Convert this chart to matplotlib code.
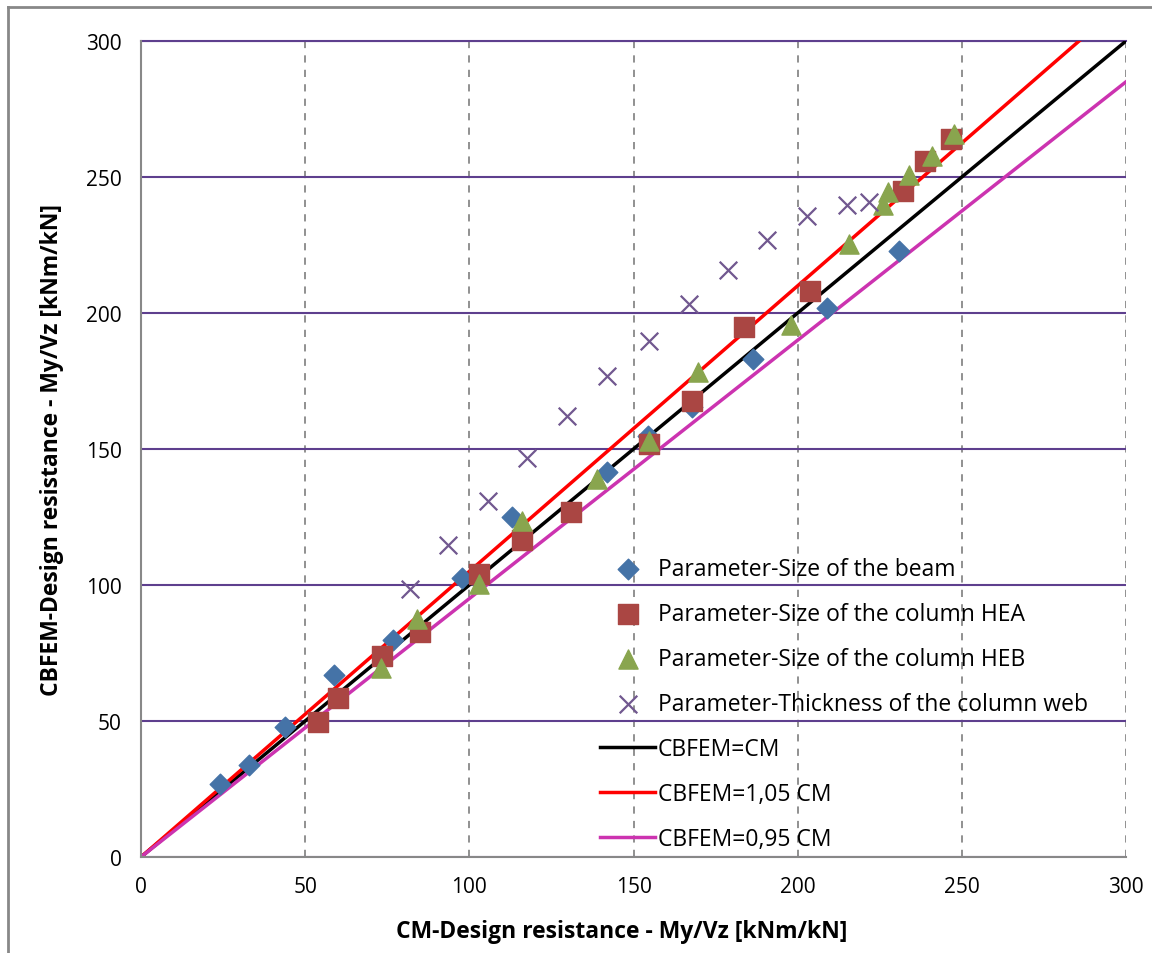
import numpy as np
import matplotlib
matplotlib.use("Agg")
import matplotlib.pyplot as plt
from matplotlib.lines import Line2D

plt.rcParams['font.family'] = ['Open Sans', 'DejaVu Sans']

# Daten
beam_x = [24.1, 32.9, 43.9, 58.8, 76.8, 97.8, 113.0, 141.9, 154.4, 167.8, 186.4, 209.0, 230.9]
beam_y = [26.8, 33.8, 47.8, 66.9, 79.8, 102.6, 125.0, 141.5, 154.8, 165.4, 183.1, 201.8, 222.8]

hea_x = [54.0, 60.0, 73.4, 85.0, 103.0, 116.0, 131.0, 154.7, 167.8, 183.7, 203.8, 232.1, 238.8, 246.7]
hea_y = [49.6, 58.5, 73.9, 82.7, 104.0, 116.5, 126.8, 151.8, 167.6, 194.8, 208.1, 244.9, 255.9, 264.0]

heb_x = [73.1, 84.1, 103.0, 116.0, 139.0, 154.7, 169.7, 198.0, 215.7, 226.0, 227.5, 234.0, 241.0, 247.6]
heb_y = [69.5, 87.5, 100.4, 123.5, 139.0, 153.0, 178.3, 195.5, 225.4, 239.7, 244.5, 250.7, 257.7, 265.8]

web_x = [82.0, 93.5, 105.7, 117.6, 129.8, 141.9, 154.7, 166.9, 178.8, 190.7, 202.9, 215.0, 221.7]
web_y = [98.5, 114.7, 130.9, 146.7, 162.1, 176.8, 189.7, 203.3, 215.8, 226.8, 235.7, 239.7, 240.8]

ref_x = [0, 300]
factors = [1.0, 1.05, 0.95]
ref_labels = ['CBFEM=CM', 'CBFEM=1,05 CM', 'CBFEM=0,95 CM']
ref_colors = ['#000000', '#FF0000', '#CC33B0']

fig = plt.figure(figsize=(11.52, 9.54), dpi=100)
ax = fig.add_axes([141/1152, 1-858/954, (1126-141)/1152, (858-42)/954])

# Rahmen des Diagrammbereichs
fig.add_artist(Line2D([8/1152, 8/1152], [0, 1-8/954], color='#888888', lw=2, transform=fig.transFigure))
fig.add_artist(Line2D([8/1152, 1], [1-8/954, 1-8/954], color='#888888', lw=2, transform=fig.transFigure))

ax.scatter(beam_x, beam_y, marker='D', s=110, color='#4573A7', zorder=3,
           label='Parameter-Size of the beam')
ax.scatter(hea_x, hea_y, marker='s', s=190, color='#AA4643', zorder=3,
           label='Parameter-Size of the column HEA')
ax.scatter(heb_x, heb_y, marker='^', s=190, color='#89A54E', zorder=3,
           label='Parameter-Size of the column HEB')
ax.scatter(web_x, web_y, marker='x', s=160, color='#71588F', linewidths=1.6, zorder=3,
           label='Parameter-Thickness of the column web')

for f, lab, c in zip(factors, ref_labels, ref_colors):
    ax.plot(ref_x, [v * f for v in ref_x], color=c, lw=2.5, label=lab, zorder=2)

ax.set_xlim(0, 300)
ax.set_ylim(0, 300)
ax.set_xticks(range(0, 301, 50))
ax.set_yticks(range(0, 301, 50))
ax.yaxis.grid(True, color='#5E3F8E', lw=1.5, zorder=0)
ax.xaxis.grid(True, color='#888888', lw=1.3, ls=(0, (4, 4)), zorder=0)
ax.axhline(300, color='#5E3F8E', lw=1.5, clip_on=False, zorder=0)
ax.set_axisbelow(True)
for s in ['top', 'right']:
    ax.spines[s].set_visible(False)
for s in ['left', 'bottom']:
    ax.spines[s].set_color('#888888')
    ax.spines[s].set_linewidth(1.5)
ax.tick_params(length=0, labelsize=15, pad=14)

ax.set_xlabel('CM-Design resistance - My/Vz [kNm/kN]', fontsize=16.5, fontweight='bold')
ax.set_ylabel('CBFEM-Design resistance - My/Vz [kNm/kN]', fontsize=16.5, fontweight='bold')
ax.xaxis.set_label_coords(0.488, -0.0907)
ax.yaxis.set_label_coords(-0.0904, 0.5)
ax.xaxis.label.set_va('center')
ax.yaxis.label.set_va('center')

ax.legend(loc='upper left', bbox_to_anchor=((600-141)/985, (858-558)/816),
          frameon=False, fontsize=16.5, handlelength=2.4, handletextpad=0.13,
          labelspacing=0.92, borderaxespad=0, borderpad=0, scatterpoints=1)

fig.savefig('out.png', dpi=100)
